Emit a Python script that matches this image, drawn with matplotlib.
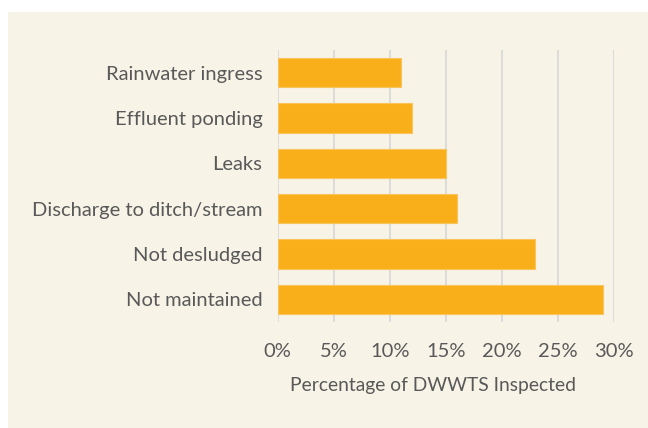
import matplotlib
matplotlib.use("Agg")
import matplotlib.pyplot as plt
from matplotlib.patches import Rectangle
from matplotlib.ticker import FuncFormatter

categories = ["Not maintained", "Not desludged", "Discharge to ditch/stream",
              "Leaks", "Effluent ponding", "Rainwater ingress"]
values = [29, 23, 16, 15, 12, 11]
xticks = [0, 5, 10, 15, 20, 25, 30]

W, H = 648, 428
fig = plt.figure(figsize=(W/100, H/100), dpi=100)
fig.patch.set_facecolor("white")
bg = "#F7F3E6"
fig.patches.append(Rectangle((8/W, 0), 1 - 8/W, (H - 12)/H, transform=fig.transFigure,
                             facecolor=bg, edgecolor="none", zorder=-10))

FONT = "Lato"
FS = 14.5
left, right, top, bottom = 277.7, 613.7, 50, 322
ax = fig.add_axes([left/W, 1 - bottom/H, (right - left)/W, (bottom - top)/H])
ax.set_zorder(5)
ax.set_facecolor("none")
ax.barh(range(len(categories)), values, height=0.65, color="#F9AF1A",
        edgecolor="#F9C45C", linewidth=0.8, zorder=3)
ax.set_xlim(0, 30)
ax.set_ylim(-0.5, len(categories) - 0.5)
ax.set_xticks(xticks)
ax.xaxis.set_major_formatter(FuncFormatter(lambda v, p: f"{int(v)}%"))
ax.set_yticks(range(len(categories)))
ax.set_yticklabels(categories)
ax.grid(axis="x", color="#D9D9D9", linewidth=1.3, zorder=0)
ax.set_axisbelow(True)
for s in ax.spines.values():
    s.set_visible(False)
ax.tick_params(length=0, labelsize=FS, colors="#595959")
ax.tick_params(axis="x", pad=15)
ax.tick_params(axis="y", pad=11)
for lab in ax.get_xticklabels() + ax.get_yticklabels():
    lab.set_family(FONT)
ax.set_xlabel("Percentage of DWWTS Inspected", fontsize=13.9, color="#595959",
              family=FONT)
ax.xaxis.set_label_coords((432.5 - left) / (right - left), -(385 - bottom) / (bottom - top))
ax.xaxis.label.set_verticalalignment("center")

fig.savefig("out.png", dpi=100, facecolor="white")
